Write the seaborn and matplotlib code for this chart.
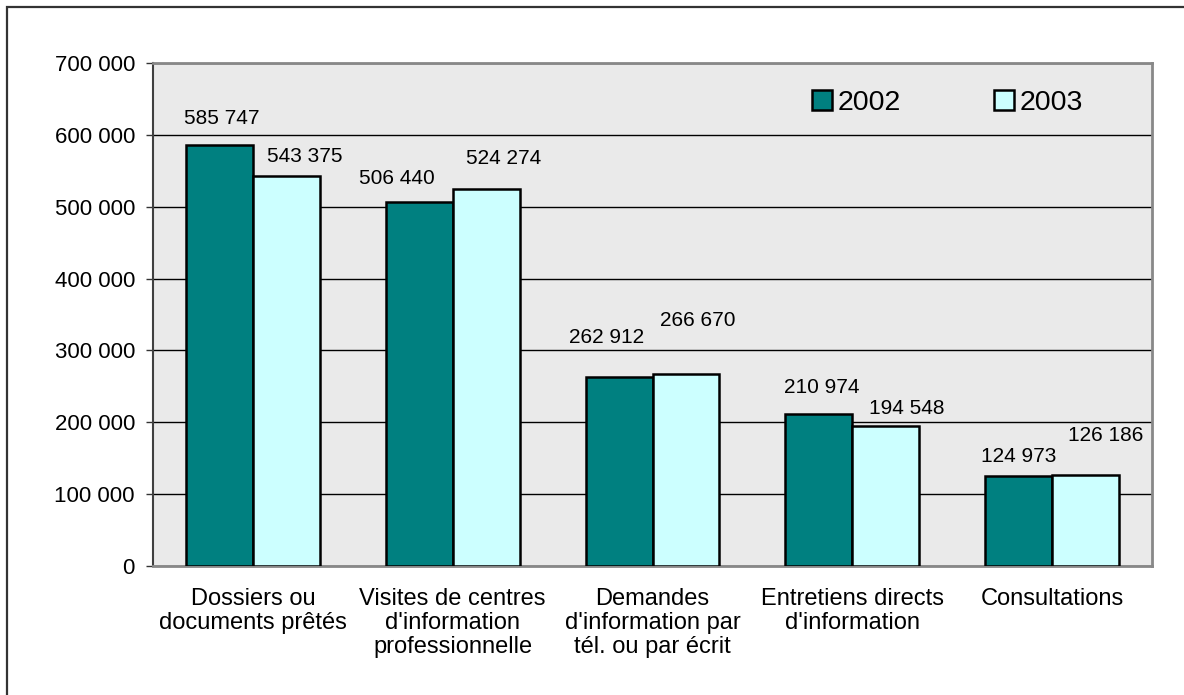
import matplotlib
matplotlib.use("Agg")
import matplotlib.pyplot as plt
import matplotlib.patches as mpatches
import seaborn as sns
import pandas as pd

# ---- data ----
categories = [
    "Dossiers ou\ndocuments prêtés",
    "Visites de centres\nd'information\nprofessionnelle",
    "Demandes\nd'information par\ntél. ou par écrit",
    "Entretiens directs\nd'information",
    "Consultations",
]
years = ["2002", "2003"]
values_2002 = [585747, 506440, 262912, 210974, 124973]
values_2003 = [543375, 524274, 266670, 194548, 126186]
y_ticks = [0, 100000, 200000, 300000, 400000, 500000, 600000, 700000]

# label offsets (pixels) as placed in the reference
label_offsets_2002 = [(2, 17), (-22, 14), (-12, 30), (3, 17), (0, 10)]
label_offsets_2003 = [(18, 10), (17, 21), (12, 44), (21, 8), (20, 30)]

teal = "#008080"
cyan = "#CCFFFF"

sns.set_theme(style="white")
plt.rcParams["font.family"] = ["Liberation Sans", "DejaVu Sans"]
plt.rcParams["text.color"] = "black"
plt.rcParams["xtick.labelcolor"] = "black"
plt.rcParams["ytick.labelcolor"] = "black"

df = pd.DataFrame({
    "cat": categories * 2,
    "year": [years[0]] * len(categories) + [years[1]] * len(categories),
    "val": values_2002 + values_2003,
})

fig = plt.figure(figsize=(11.84, 6.95), dpi=100)
fig.patch.set_facecolor("white")
ax = fig.add_axes([153 / 1184, 1 - 566 / 695, (1152 - 153) / 1184, (566 - 63) / 695])
ax.set_facecolor("#EAEAEA")

sns.barplot(data=df, x="cat", y="val", hue="year", palette=[teal, cyan],
            width=0.67, gap=0, edgecolor="black", linewidth=1.8,
            saturation=1, legend=False, ax=ax, zorder=3)

ax.set_xlim(-0.5, len(categories) - 0.5)
ax.set_ylim(0, 700000)
ax.set_yticks(y_ticks)
ax.set_yticklabels([f"{v:,}".replace(",", " ") for v in y_ticks], fontsize=16)
ax.tick_params(axis="y", left=True, length=5, width=1, color="#333333", pad=8)
ax.tick_params(axis="x", bottom=False, labelsize=17, pad=10)
for t in ax.get_xticklabels():
    t.set_linespacing(1.12)
ax.set_xlabel("")
ax.set_ylabel("")

ax.yaxis.grid(True, color="black", linewidth=1)
ax.xaxis.grid(False)
ax.set_axisbelow(True)

for s in ["top", "right", "bottom"]:
    ax.spines[s].set_color("#888888")
    ax.spines[s].set_linewidth(2)
ax.spines["left"].set_color("#404040")
ax.spines["left"].set_linewidth(1.5)

# data labels
for cont, offs in zip(ax.containers, [label_offsets_2002, label_offsets_2003]):
    for bar, (dx, dy) in zip(cont, offs):
        h = bar.get_height()
        ax.annotate(f"{int(round(h)):,}".replace(",", " "),
                    (bar.get_x() + bar.get_width() / 2, h),
                    xytext=(dx, dy), textcoords="offset pixels",
                    ha="center", va="bottom", fontsize=15, color="black",
                    zorder=5)

# legend
handles = [mpatches.Patch(facecolor=teal, edgecolor="black", linewidth=1.8),
           mpatches.Patch(facecolor=cyan, edgecolor="black", linewidth=1.8)]
fig.legend(handles, years, loc="center left",
           bbox_to_anchor=(812 / 1184, 1 - 103 / 695),
           bbox_transform=fig.transFigure, ncol=2, frameon=False,
           fontsize=20.5, handlelength=0.7, handleheight=0.7,
           handletextpad=0.21, columnspacing=3.25, borderpad=0,
           borderaxespad=0, labelcolor="black")

# outer chart border
fig.patches.append(mpatches.Rectangle((7 / 1184, -0.1), 1.2, 1.1 - 7 / 695,
                                      transform=fig.transFigure, fill=False,
                                      edgecolor="#333333", linewidth=1.6,
                                      clip_on=False))

fig.savefig("out.png", dpi=100)
